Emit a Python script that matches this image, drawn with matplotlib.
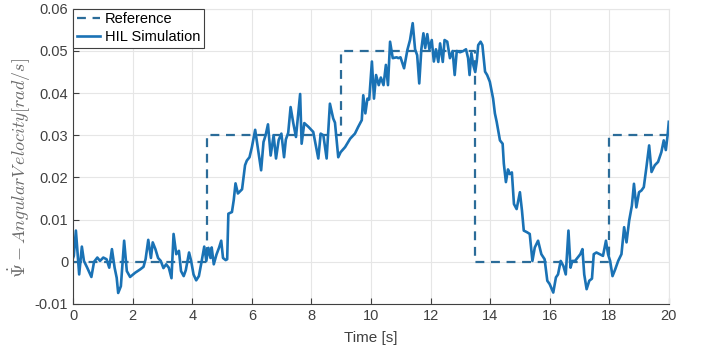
import numpy as np
import matplotlib
matplotlib.use('Agg')
from matplotlib import pyplot as plt

# Reference step signal
ref_t = [0, 4.5, 4.5, 9, 9, 13.5, 13.5, 18, 18, 20]
ref_v = [0, 0, 0.03, 0.03, 0.05, 0.05, 0, 0, 0.03, 0.03]

# HIL simulation
hil_t = [0.0, 0.02, 0.09, 0.2, 0.29, 0.36, 0.47, 0.61, 0.7, 0.81, 0.9, 1.01, 1.12, 1.21,
         1.3, 1.39, 1.46, 1.51, 1.6, 1.71, 1.8, 1.91, 2.08, 2.25, 2.36, 2.43, 2.52, 2.61,
         2.67, 2.76, 2.85, 2.94, 3.03, 3.12, 3.21, 3.3, 3.37, 3.46, 3.55, 3.62, 3.71, 3.78,
         3.89, 3.96, 4.04, 4.13, 4.22, 4.31, 4.4, 4.47, 4.54, 4.61, 4.65, 4.72, 4.81, 4.9,
         4.97, 5.03, 5.12, 5.17, 5.21, 5.33, 5.39, 5.45, 5.53, 5.67, 5.77, 5.83, 5.92, 6.0,
         6.11, 6.18, 6.31, 6.39, 6.46, 6.54, 6.63, 6.73, 6.81, 6.9, 6.99, 7.08, 7.14, 7.22,
         7.3, 7.39, 7.48, 7.62, 7.67, 7.76, 7.9, 8.06, 8.15, 8.23, 8.31, 8.4, 8.51, 8.62,
         8.73, 8.79, 8.9, 8.98, 9.13, 9.3, 9.46, 9.57, 9.69, 9.74, 9.81, 9.88, 9.94, 10.03,
         10.1, 10.17, 10.26, 10.33, 10.42, 10.5, 10.57, 10.64, 10.73, 10.86, 10.92, 10.99,
         11.11, 11.22, 11.31, 11.4, 11.48, 11.55, 11.62, 11.69, 11.76, 11.82, 11.89, 11.96,
         12.04, 12.11, 12.18, 12.26, 12.32, 12.41, 12.47, 12.56, 12.65, 12.74, 12.81, 12.88,
         12.99, 13.1, 13.19, 13.26, 13.31, 13.37, 13.44, 13.5, 13.55, 13.6, 13.68, 13.74,
         13.83, 13.9, 13.99, 14.1, 14.16, 14.22, 14.33, 14.42, 14.46, 14.53, 14.6, 14.66,
         14.73, 14.8, 14.89, 15.0, 15.07, 15.13, 15.24, 15.33, 15.42, 15.5, 15.61, 15.72,
         15.83, 15.92, 16.0, 16.12, 16.21, 16.28, 16.37, 16.46, 16.54, 16.63, 16.7, 16.76,
         16.85, 16.94, 17.03, 17.1, 17.16, 17.24, 17.33, 17.42, 17.48, 17.57, 17.68, 17.79,
         17.89, 17.96, 18.03, 18.11, 18.2, 18.3, 18.41, 18.5, 18.58, 18.67, 18.76, 18.83,
         18.91, 19.0, 19.08, 19.16, 19.25, 19.34, 19.42, 19.53, 19.64, 19.75, 19.83, 19.9,
         19.96, 20.0]
hil_v = [0.001, 0.0014, 0.0074, -0.003, 0.0036, 0.0002, -0.0014, -0.0036, 0.0, 0.001,
         0.0002, 0.001, 0.0006, -0.0014, 0.003, -0.0014, -0.0038, -0.0074, -0.0058, 0.005,
         -0.0022, -0.0036, -0.0026, -0.0018, -0.0012, 0.0006, 0.0052, 0.0009, 0.0046, 0.003,
         0.0009, 0.0002, -0.0015, -0.0006, -0.0014, -0.0039, 0.0066, 0.0018, 0.0026, -0.0022,
         -0.0034, -0.002, 0.0022, 0.0002, -0.003, -0.0044, -0.0034, 0.0, 0.0036, 0.0002,
         0.0033, 0.0009, 0.0034, -0.0006, 0.0017, 0.0034, 0.005, 0.0009, 0.0004, 0.0006,
         0.0114, 0.0118, 0.0146, 0.0186, 0.0162, 0.0172, 0.0229, 0.024, 0.0248, 0.0272,
         0.0313, 0.028, 0.0217, 0.0284, 0.03, 0.0326, 0.0252, 0.03, 0.0245, 0.0289, 0.0304,
         0.0248, 0.029, 0.0306, 0.0367, 0.0329, 0.0296, 0.0398, 0.028, 0.0329, 0.032, 0.0308,
         0.0275, 0.0245, 0.0304, 0.03, 0.0245, 0.0375, 0.034, 0.033, 0.0248, 0.026, 0.0272,
         0.0292, 0.0304, 0.032, 0.0336, 0.0395, 0.0352, 0.0387, 0.0385, 0.0475, 0.0387,
         0.0443, 0.0419, 0.0437, 0.0419, 0.0467, 0.0419, 0.0522, 0.0483, 0.0485, 0.0483,
         0.0485, 0.0459, 0.0502, 0.0526, 0.0566, 0.0504, 0.049, 0.0423, 0.0504, 0.0542,
         0.0507, 0.054, 0.0504, 0.0526, 0.0475, 0.0504, 0.0474, 0.0518, 0.0474, 0.0526,
         0.0522, 0.0483, 0.05, 0.0443, 0.05, 0.0497, 0.05, 0.0504, 0.0483, 0.0443, 0.0495,
         0.0465, 0.045, 0.0475, 0.0514, 0.0522, 0.0514, 0.0451, 0.0443, 0.0427, 0.0387,
         0.0352, 0.0332, 0.0288, 0.028, 0.0233, 0.0189, 0.0219, 0.0208, 0.0212, 0.0137,
         0.0125, 0.0165, 0.0121, 0.0074, 0.007, 0.0066, 0.0002, 0.0034, 0.005, 0.0018,
         0.0006, -0.0045, -0.0053, -0.0073, -0.0037, -0.003, 0.0002, -0.001, -0.003, 0.0074,
         -0.0014, 0.0002, 0.0002, 0.001, 0.0018, 0.003, -0.003, -0.0065, -0.0045, -0.004,
         0.0018, 0.0022, 0.0018, 0.0014, 0.005, 0.0018, 0.0002, -0.0034, -0.0018, 0.0002,
         0.0018, 0.0082, 0.0046, 0.0098, 0.0133, 0.0185, 0.0129, 0.0165, 0.0169, 0.0177,
         0.0225, 0.0276, 0.0213, 0.0229, 0.0237, 0.026, 0.0288, 0.0265, 0.03, 0.0332]

xticks = [0, 2, 4, 6, 8, 10, 12, 14, 16, 18, 20]
yticks = [-0.01, 0, 0.01, 0.02, 0.03, 0.04, 0.05, 0.06]
ytick_labels = ['-0.01', '0', '0.01', '0.02', '0.03', '0.04', '0.05', '0.06']

plt.rcParams['font.family'] = ['Liberation Sans', 'DejaVu Sans']
plt.rcParams['mathtext.fontset'] = 'cm'

fig = plt.figure(figsize=(7.04, 3.53), dpi=100)
ax = fig.add_axes([0.104, 0.139, 0.846, 0.836])

ax.plot(ref_t, ref_v, '--', color='#2b6c99', lw=1.6, dashes=(4, 3), label='Reference')
ax.plot(hil_t, hil_v, '-', color='#1a72b5', lw=1.9, label='HIL Simulation')

ax.set_xlim(0, 20)
ax.set_ylim(-0.01, 0.06)
ax.set_xticks(xticks)
ax.set_yticks(yticks)
ax.set_yticklabels(ytick_labels)
ax.tick_params(direction='in', colors='#404040', labelsize=10.5, length=4)
ax.grid(True, color='#e6e6e6', lw=0.8)
ax.set_axisbelow(True)
for s in ['top', 'right']:
    ax.spines[s].set_color('#e6e6e6')
for s in ['left', 'bottom']:
    ax.spines[s].set_color('#404040')

ax.set_xlabel('Time [s]', fontsize=11, color='#404040', labelpad=6)
ax.set_ylabel(r'$\dot{\Psi} - Angular V\,elocity [rad/s]$', fontsize=13, color='#6a6a6a',
              labelpad=-3)
ax.yaxis.set_label_coords(-0.068, 0.46)

leg = ax.legend(loc='upper left', fontsize=10.5, borderaxespad=0, handlelength=1.6,
                handletextpad=0.3, borderpad=0.25, labelspacing=0.25, fancybox=False,
                framealpha=1)
leg.get_frame().set_edgecolor('#404040')
leg.get_frame().set_linewidth(0.8)

fig.savefig('out.png', dpi=100)
